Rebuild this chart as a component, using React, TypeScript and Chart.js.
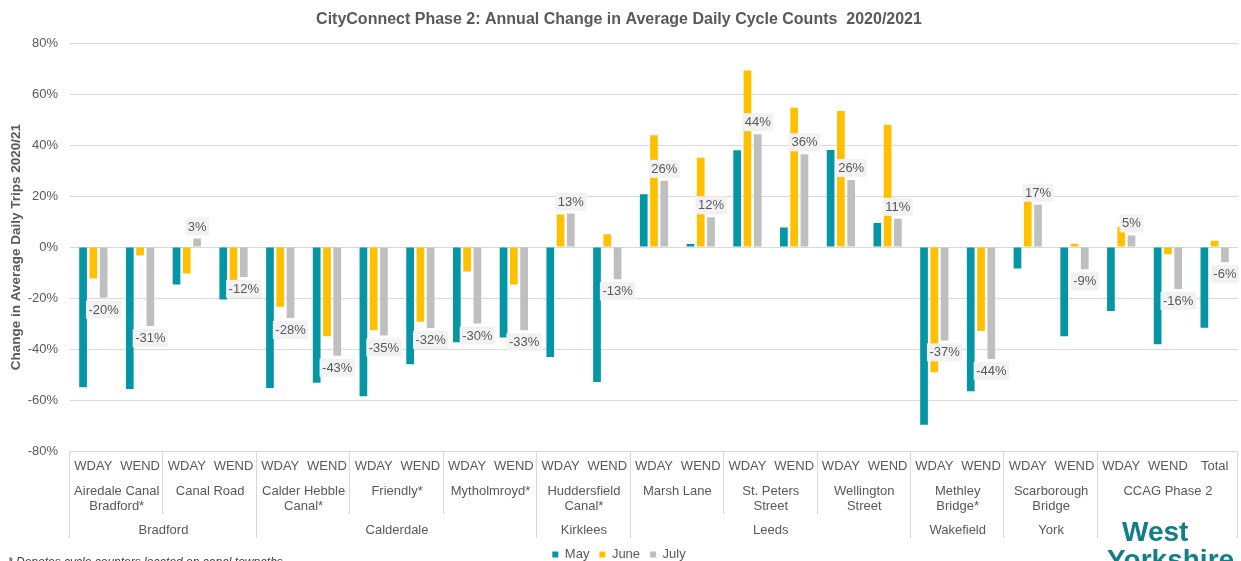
import { useEffect, useRef } from "react";
import { Chart, registerables } from "chart.js";

Chart.register(...registerables);

const chartTitle = "CityConnect Phase 2: Annual Change in Average Daily Cycle Counts  2020/2021";
const yAxisTitle = "Change in Average Daily Trips 2020/21";
const seriesNames = ["May", "June", "July"];
const seriesColors = ["#0496A5", "#FFC000", "#BFBFBF"];

const categories = [
  "WDAY", "WEND", "WDAY", "WEND", "WDAY", "WEND", "WDAY", "WEND", "WDAY", "WEND",
  "WDAY", "WEND", "WDAY", "WEND", "WDAY", "WEND", "WDAY", "WEND", "WDAY", "WEND",
  "WDAY", "WEND", "WDAY", "WEND", "Total",
];

const siteNames = [
  "Airedale Canal\nBradford*", "Canal Road", "Calder Hebble\nCanal*", "Friendly*",
  "Mytholmroyd*", "Huddersfield\nCanal*", "Marsh Lane", "St. Peters\nStreet",
  "Wellington\nStreet", "Methley\nBridge*", "Scarborough\nBridge", "CCAG Phase 2",
];
const siteSpans = [2, 2, 2, 2, 2, 2, 2, 2, 2, 2, 2, 3];

const regionNames = ["Bradford", "Calderdale", "Kirklees", "Leeds", "Wakefield", "York", ""];
const regionSpans = [4, 6, 2, 6, 2, 2, 3];

const mayValues = [
  -55, -55.7, -14.7, -20.6, -55.3, -53.2, -58.5, -46, -37.3, -35.5,
  -43.1, -52.9, 20.7, 1.2, 38, 7.7, 38.1, 9.5, -69.7, -56.6,
  -8.4, -35, -25.1, -38.1, -31.6,
];
const juneValues = [
  -12.3, -3.3, -10.4, -13, -23.4, -35, -32.6, -29.3, -9.6, -14.7,
  12.8, 5.0, 43.9, 35.1, 69.3, 54.7, 53.4, 48, -49.1, -32.9,
  18, 1.3, 8, -2.8, 2.5,
];
const julyValues = [
  -19.8, -31, 3.4, -11.7, -27.8, -42.6, -34.7, -31.7, -30, -32.6,
  13.2, -12.6, 26, 11.7, 44.3, 36.4, 26.3, 11.1, -36.6, -43.9,
  16.6, -8.7, 4.6, -16.4, -5.9,
];

const yTicks = [-80, -60, -40, -20, 0, 20, 40, 60, 80];
const footnote = "* Denotes cycle counters located on canal towpaths";
const logoLines = ["West", "Yorkshire"];

const FONT = "'Liberation Sans', Arial, sans-serif";
const TEXT = "#595959";
const GRID = "#D9D9D9";

const overlayPlugin = {
  id: "overlay",
  afterDatasetsDraw(chart: any) {
    const ctx = chart.ctx;
    const meta = chart.getDatasetMeta(2);
    ctx.save();
    ctx.font = `13px ${FONT}`;
    ctx.textAlign = "center";
    ctx.textBaseline = "middle";
    meta.data.forEach((el: any, i: number) => {
      const v = julyValues[i];
      const text = `${Math.round(v)}%`;
      const w = ctx.measureText(text).width + 5;
      const h = 18;
      const cy = v >= 0 ? el.y - 3 - h / 2 : el.y + 3 + h / 2;
      ctx.fillStyle = "#F2F2F2";
      ctx.fillRect(el.x - w / 2, cy - h / 2, w, h);
      ctx.fillStyle = TEXT;
      ctx.fillText(text, el.x, cy + 0.5);
    });
    ctx.restore();
  },
  afterDraw(chart: any) {
    const ctx = chart.ctx;
    const xs = chart.scales.x;
    const area = chart.chartArea;
    const catW = (area.right - area.left) / categories.length;
    const axisY = area.bottom;
    ctx.save();
    ctx.font = `13px ${FONT}`;
    ctx.fillStyle = TEXT;
    ctx.textAlign = "center";
    ctx.textBaseline = "middle";
    categories.forEach((c, i) => ctx.fillText(c, xs.getPixelForValue(i), axisY + 15));

    const regionBounds = new Set<number>();
    let acc = 0;
    regionBounds.add(0);
    regionSpans.forEach((s) => { acc += s; regionBounds.add(acc); });

    let idx = 0;
    const siteBounds: number[] = [0];
    siteNames.forEach((name, k) => {
      const span = siteSpans[k];
      const cx = (xs.getPixelForValue(idx) + xs.getPixelForValue(idx + span - 1)) / 2;
      name.split("\n").forEach((line, j) => ctx.fillText(line, cx, axisY + 40 + j * 15));
      idx += span;
      siteBounds.push(idx);
    });

    idx = 0;
    regionNames.forEach((name, k) => {
      const span = regionSpans[k];
      const cx = (xs.getPixelForValue(idx) + xs.getPixelForValue(idx + span - 1)) / 2;
      if (name) ctx.fillText(name, cx, axisY + 79);
      idx += span;
    });

    ctx.strokeStyle = GRID;
    ctx.lineWidth = 1;
    siteBounds.forEach((b) => {
      const x = Math.round(area.left + b * catW) - 0.5;
      const bottom = regionBounds.has(b) ? axisY + 87 : axisY + 63;
      ctx.beginPath();
      ctx.moveTo(x, axisY);
      ctx.lineTo(x, bottom);
      ctx.stroke();
    });

    // footnote
    ctx.textAlign = "left";
    ctx.textBaseline = "alphabetic";
    ctx.font = `italic 12px ${FONT}`;
    ctx.fillStyle = "#404040";
    ctx.fillText(footnote, 8, 566);

    // logo
    ctx.font = `bold 28px ${FONT}`;
    ctx.fillStyle = "#127E88";
    ctx.textAlign = "left";
    ctx.fillText(logoLines[0], 1122, 541);
    ctx.fillText(logoLines[1], 1107, 569);
    ctx.restore();
  },
};

export default function App() {
  const canvasRef = useRef<HTMLCanvasElement | null>(null);

  useEffect(() => {
    const canvas = canvasRef.current;
    if (!canvas) return;
    const chart = new Chart(canvas, {
      type: "bar",
      data: {
        labels: categories,
        datasets: [mayValues, juneValues, julyValues].map((vals, i) => ({
          label: seriesNames[i],
          data: vals,
          backgroundColor: seriesColors[i],
          borderWidth: 0,
          categoryPercentage: 0.66,
          barPercentage: 0.75,
        })),
      },
      plugins: [overlayPlugin],
      options: {
        animation: false,
        responsive: false,
        devicePixelRatio: 1,
        layout: { padding: { left: 0, right: 3, top: 0, bottom: -10 } },
        plugins: {
          title: {
            display: true,
            text: chartTitle,
            color: TEXT,
            font: { family: FONT, size: 16, weight: "bold" },
            padding: { top: 10, bottom: 14 },
          },
          legend: {
            position: "bottom",
            labels: {
              boxWidth: 6,
              boxHeight: 6,
              padding: 10,
              color: TEXT,
              font: { family: FONT, size: 13 },
            },
          },
          tooltip: { enabled: false },
        },
        scales: {
          x: {
            type: "category",
            ticks: { display: false },
            grid: { display: false },
            border: { display: false },
            afterFit: (scale: any) => { scale.height = 87; },
          },
          y: {
            min: -80,
            max: 80,
            afterBuildTicks: (scale: any) => { scale.ticks = yTicks.map((v) => ({ value: v })); },
            afterFit: (scale: any) => { scale.width = 70; },
            ticks: {
              color: TEXT,
              padding: 12,
              font: { family: FONT, size: 13 },
              callback: (v: any) => `${v}%`,
            },
            grid: { color: GRID, drawTicks: false, lineWidth: 1 },
            border: { display: false },
            title: {
              display: true,
              text: yAxisTitle,
              color: TEXT,
              font: { family: FONT, size: 13.5, weight: "bold" },
              padding: { top: 8, bottom: 0 },
            },
          },
        },
      },
    } as any);
    return () => chart.destroy();
  }, []);

  return (
    <div style={{ position: "absolute", left: 0, top: 0, width: 1241, height: 561, background: "#fff" }}>
      <canvas ref={canvasRef} width={1241} height={561} />
    </div>
  );
}
